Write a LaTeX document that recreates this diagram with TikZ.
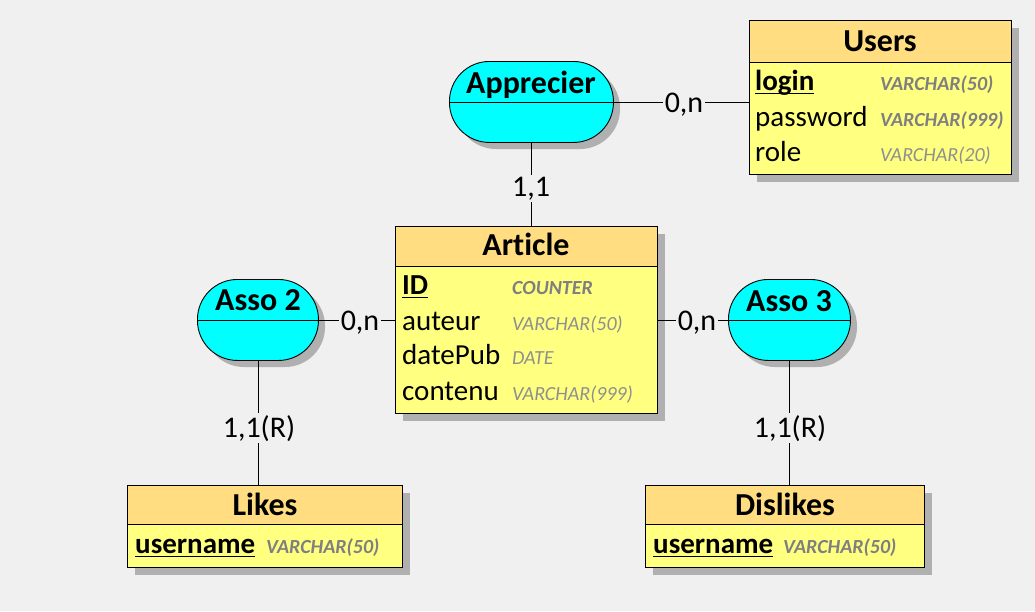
\documentclass[tikz,border=0pt]{standalone}
\usepackage{fontspec}
\setmainfont[Ligatures=NoCommon]{Carlito}
\definecolor{bg}{HTML}{F0F0F0}
\definecolor{hdr}{HTML}{FFDD80}
\definecolor{bodyc}{HTML}{FFFF80}
\definecolor{shd}{HTML}{B0B0B0}
\definecolor{typeb}{HTML}{7F7F7F}
\definecolor{typel}{HTML}{8F8F8F}
\definecolor{assoc}{HTML}{00FFFF}
\newcommand{\ulkey}[1]{\setbox0\hbox{#1}\rlap{\rule[-4pt]{\wd0}{1.4pt}}\box0}
\tikzset{
  ln/.style={line width=0.9pt, draw=black},
  hdrbox/.style={ln, fill=hdr, anchor=north west, inner sep=0pt},
  bodybox/.style={ln, fill=bodyc, anchor=north west, inner sep=0pt},
  titletxt/.style={anchor=base, inner sep=0pt, font=\fontsize{32}{35}\selectfont\bfseries},
  attr/.style={anchor=base west, inner sep=0pt, font=\fontsize{29}{31}\selectfont},
  keyattr/.style={anchor=base west, inner sep=0pt, font=\fontsize{29}{31}\selectfont\bfseries},
  typebold/.style={anchor=base west, inner sep=0pt, text=typeb, font=\fontsize{20}{22}\selectfont\bfseries\itshape},
  typelite/.style={anchor=base west, inner sep=0pt, text=typel, font=\fontsize{20}{22}\selectfont\itshape},
  assobox/.style={ln, fill=assoc, rounded corners=40pt, anchor=north west, inner sep=0pt, minimum width=#1, minimum height=81pt},
  card/.style={anchor=base, inner sep=2pt, fill=bg, font=\fontsize{30}{32}\selectfont},
}
\begin{document}
\begin{tikzpicture}[x=1pt,y=-1pt]
\useasboundingbox[fill=bg] (0,0) rectangle (1035,611);

% ---------- shadows ----------
\fill[shd] (757,28) rectangle (1019,182);
\fill[shd] (403,234) rectangle (665,421);
\fill[shd] (135,493) rectangle (410,575);
\fill[shd] (653,493) rectangle (932,575);
\fill[shd, rounded corners=40pt] (456,68) rectangle (620,149);
\fill[shd, rounded corners=40pt] (204,286) rectangle (325,367);
\fill[shd, rounded corners=40pt] (735,286) rectangle (857,367);

% ---------- Users ----------
\node[hdrbox, minimum width=262pt, minimum height=42pt] (usersh) at (749,20) {};
\node[bodybox, minimum width=262pt, minimum height=112pt] (users) at (749,62) {};
\node[titletxt] at (880,51) {Users};
\node[keyattr] at (755,90) {\ulkey{login}};
\node[attr] at (755,126) {password};
\node[attr] at (755,161) {role};
\node[typebold] at (880,90) {VARCHAR(50)};
\node[typebold] at (880,126) {VARCHAR(999)};
\node[typelite] at (880,161) {VARCHAR(20)};

% ---------- Article ----------
\node[hdrbox, minimum width=262pt, minimum height=40pt] (articleh) at (395,226) {};
\node[bodybox, minimum width=262pt, minimum height=147pt] (article) at (395,266) {};
\node[titletxt] at (526,255) {Article};
\node[keyattr] at (402,294) {\ulkey{ID}};
\node[attr] at (402,330) {auteur};
\node[attr] at (402,364) {datePub};
\node[attr] at (402,400) {contenu};
\node[typebold] at (512,294) {COUNTER};
\node[typelite] at (512,330) {VARCHAR(50)};
\node[typelite] at (512,364) {DATE};
\node[typelite] at (512,400) {VARCHAR(999)};

% ---------- Likes ----------
\node[hdrbox, minimum width=275pt, minimum height=39pt] (likesh) at (127,485) {};
\node[bodybox, minimum width=275pt, minimum height=43pt] (likes) at (127,524) {};
\node[titletxt] at (265,515) {Likes};
\node[keyattr] at (135,553) {\ulkey{username}};
\node[typebold] at (266,553) {VARCHAR(50)};

% ---------- Dislikes ----------
\node[hdrbox, minimum width=279pt, minimum height=39pt] (dislikesh) at (645,485) {};
\node[bodybox, minimum width=279pt, minimum height=43pt] (dislikes) at (645,524) {};
\node[titletxt] at (785,515) {Dislikes};
\node[keyattr] at (653,553) {\ulkey{username}};
\node[typebold] at (783,553) {VARCHAR(50)};

% ---------- associations ----------
\node[assobox=164pt] (appr) at (449,61) {};
\draw[ln] (appr.west) -- (appr.east);
\node[titletxt] at (531,93) {Apprecier};

\node[assobox=121pt] (asso2) at (197,279) {};
\draw[ln] (asso2.west) -- (asso2.east);
\node[titletxt] at (258,310) {Asso 2};

\node[assobox=122pt] (asso3) at (728,279) {};
\draw[ln] (asso3.west) -- (asso3.east);
\node[titletxt] at (789,311) {Asso 3};

% ---------- connectors ----------
\draw[ln] (appr.east) -- (appr.east -| users.west);
\draw[ln] (appr.south) -- (appr.south |- articleh.north);
\draw[ln] (asso2.east) -- (asso2.east -| article.west);
\draw[ln] (asso3.west) -- (asso3.west -| article.east);
\draw[ln] (asso2.south) -- (asso2.south |- likesh.north);
\draw[ln] (asso3.south) -- (asso3.south |- dislikesh.north);

% ---------- cardinalities ----------
\node[card] (c1) at (684,112) {0,n};
\node[card] (c2) at (531,196) {1,1};
\node[card] (c3) at (360,330) {0,n};
\node[card] (c4) at (697,330) {0,n};
\node[card] (c5) at (259,437) {1,1(R)};
\node[card] (c6) at (790,437) {1,1(R)};
\end{tikzpicture}
\end{document}
